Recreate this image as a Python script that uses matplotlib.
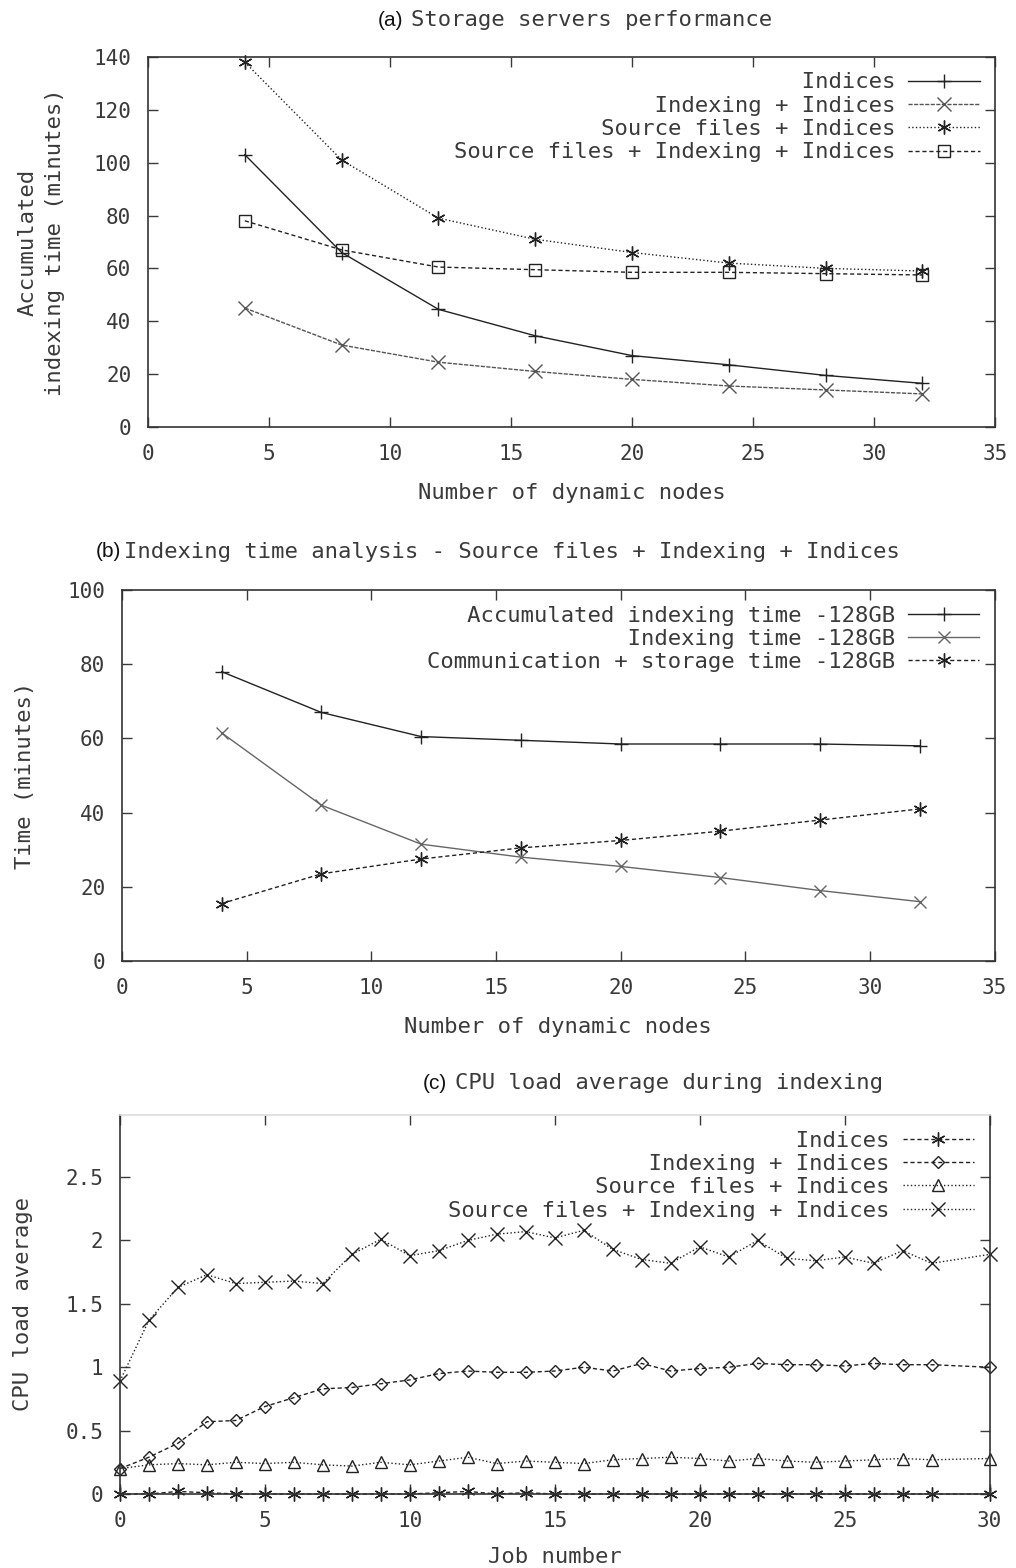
import matplotlib
matplotlib.use("Agg")
import matplotlib.pyplot as plt

MONO = "DejaVu Sans Mono"
TXT = "#3a3a3a"
plt.rcParams["font.family"] = MONO
plt.rcParams["font.size"] = 16
plt.rcParams["text.color"] = TXT
plt.rcParams["axes.labelcolor"] = TXT
plt.rcParams["xtick.color"] = TXT
plt.rcParams["ytick.color"] = TXT

# (a) storage servers performance
nodes = [4, 8, 12, 16, 20, 24, 28, 32]
a_indices = [103, 66, 44.5, 34.5, 27, 23.5, 19.5, 16.5]
a_indexing = [45, 31, 24.5, 21, 18, 15.5, 14, 12.5]
a_source = [138, 101, 79, 71, 66, 62, 60, 59]
a_all = [78, 67, 60.5, 59.5, 58.5, 58.5, 58, 57.5]
a_labels = ["Indices", "Indexing + Indices", "Source files + Indices",
            "Source files + Indexing + Indices"]

# (b) indexing time analysis
b_accum = [78, 67, 60.5, 59.5, 58.5, 58.5, 58.5, 58]
b_indexing = [61.5, 42, 31.5, 28, 25.5, 22.5, 19, 16]
b_comm = [15.5, 23.5, 27.5, 30.5, 32.5, 35, 38, 41]
b_labels = ["Accumulated indexing time -128GB", "Indexing time -128GB",
            "Communication + storage time -128GB"]

# (c) CPU load average
jobs = list(range(29)) + [30]
c_indices = [0, 0, 0.02, 0.01, 0, 0, 0, 0, 0, 0, 0, 0.01, 0.02, 0, 0.01,
             0, 0, 0, 0, 0, 0, 0, 0, 0, 0, 0, 0, 0, 0, 0]
c_indexing = [0.2, 0.29, 0.4, 0.57, 0.58, 0.69, 0.76, 0.83, 0.84, 0.87, 0.9,
              0.95, 0.97, 0.96, 0.96, 0.97, 1.0, 0.97, 1.03, 0.97, 0.99, 1.0,
              1.03, 1.02, 1.02, 1.01, 1.03, 1.02, 1.02, 1.0]
c_source = [0.2, 0.23, 0.24, 0.23, 0.25, 0.24, 0.25, 0.23, 0.22, 0.25, 0.23,
            0.26, 0.29, 0.24, 0.26, 0.25, 0.24, 0.27, 0.28, 0.29, 0.28, 0.26,
            0.28, 0.26, 0.25, 0.26, 0.27, 0.28, 0.27, 0.28]
c_all = [0.89, 1.37, 1.63, 1.73, 1.66, 1.67, 1.68, 1.66, 1.89, 2.01, 1.88,
         1.92, 2.0, 2.05, 2.07, 2.02, 2.08, 1.93, 1.85, 1.82, 1.95, 1.87, 2.0,
         1.86, 1.84, 1.87, 1.82, 1.92, 1.82, 1.89]
c_labels = ["Indices", "Indexing + Indices", "Source files + Indices",
            "Source files + Indexing + Indices"]

ASTER = (6, 2, 0)  # gnuplot-like asterisk


def pad(labels):
    n = max(len(s) for s in labels)
    return [s.rjust(n) for s in labels]


def style(ax, xlim, ylim, xticks, yticks, yfmt=None):
    ax.set_xlim(*xlim)
    ax.set_ylim(*ylim)
    ax.set_xticks(xticks)
    ax.set_yticks(yticks)
    if yfmt:
        ax.set_yticklabels([yfmt(v) for v in yticks])
    ax.tick_params(direction="in", top=True, right=True, length=7,
                   width=1, pad=12, labelsize=15)
    for s in ax.spines.values():
        s.set_color("#333333")
        s.set_linewidth(1.2)


def legend(ax, labels):
    ax.legend(pad(labels), loc="upper right", frameon=False, markerfirst=False,
              handlelength=3.2, handletextpad=0.6, labelspacing=0.15,
              numpoints=1, borderaxespad=0.3, fontsize=16)


fig = plt.figure(figsize=(10.16, 15.68), dpi=100)

# ---- (a)
ax = fig.add_axes([0.1457, 0.7277, 0.8337, 0.236])
kw = dict(color="#222222", lw=1, mfc="none", ms=10, mew=1, clip_on=False)
ax.plot(nodes, a_indices, "-", marker="+", **kw)
ax.plot(nodes, a_indexing, "--", marker="x", dashes=(3, 1), **{**kw, "color": "#555555"})
ax.plot(nodes, a_source, ":", marker=ASTER, **kw)
ax.plot(nodes, a_all, "--", marker="s", dashes=(3, 2), **{**kw, "ms": 8})
style(ax, (0, 35), (0, 140), range(0, 36, 5), range(0, 141, 20))
legend(ax, a_labels)
ax.set_xlabel("Number of dynamic nodes", labelpad=14)
ax.set_ylabel("Accumulated\nindexing time (minutes)", linespacing=1.45,
              multialignment="center")
ax.yaxis.set_label_coords(-0.098, 0.5)
fig.text(0.397, 0.987, "(a)", family="Liberation Sans", fontsize=15, ha="right", va="center", color="#111111")
fig.text(0.405, 0.987, "Storage servers performance", ha="left", va="center")

# ---- (b)
ax = fig.add_axes([0.120, 0.3871, 0.859, 0.2366])
ax.plot(nodes, b_accum, "-", marker="+", **kw)
ax.plot(nodes, b_indexing, "-", marker="x", **{**kw, "color": "#666666", "ms": 9})
ax.plot(nodes, b_comm, "--", marker=ASTER, dashes=(3, 2), **kw)
style(ax, (0, 35), (0, 100), range(0, 36, 5), range(0, 101, 20))
legend(ax, b_labels)
ax.set_xlabel("Number of dynamic nodes", labelpad=14)
ax.set_ylabel("Time (minutes)")
ax.yaxis.set_label_coords(-0.1, 0.5)
fig.text(0.119, 0.648, "(b)", family="Liberation Sans", fontsize=15, ha="right", va="center", color="#111111")
fig.text(0.122, 0.648, "Indexing time analysis - Source files + Indexing + Indices",
         ha="left", va="center")

# ---- (c)
ax = fig.add_axes([0.118, 0.0472, 0.856, 0.2417])
kc = dict(color="#222222", lw=1, mfc="none", mew=1, clip_on=False)
ax.plot(jobs, c_indices, "--", marker=ASTER, ms=10, dashes=(3, 2), **kc)
ax.plot(jobs, c_indexing, "--", marker="D", ms=6, dashes=(3, 2), **kc)
ax.plot(jobs, c_source, ":", marker="^", ms=8, **kc)
ax.plot(jobs, c_all, ":", marker="x", ms=10, **kc)
style(ax, (0, 30), (0, 2.99), range(0, 31, 5), [0, 0.5, 1, 1.5, 2, 2.5],
      yfmt=lambda v: f"{v:g}")
ax.spines["top"].set_color("#dddddd")
legend(ax, c_labels)
ax.set_xlabel("Job number", labelpad=12)
ax.set_ylabel("CPU load average")
ax.yaxis.set_label_coords(-0.1, 0.5)
fig.text(0.440, 0.309, "(c)", family="Liberation Sans", fontsize=15, ha="right", va="center", color="#111111")
fig.text(0.448, 0.309, "CPU load average during indexing", ha="left", va="center")

fig.savefig("out.png", dpi=100, facecolor="white")
